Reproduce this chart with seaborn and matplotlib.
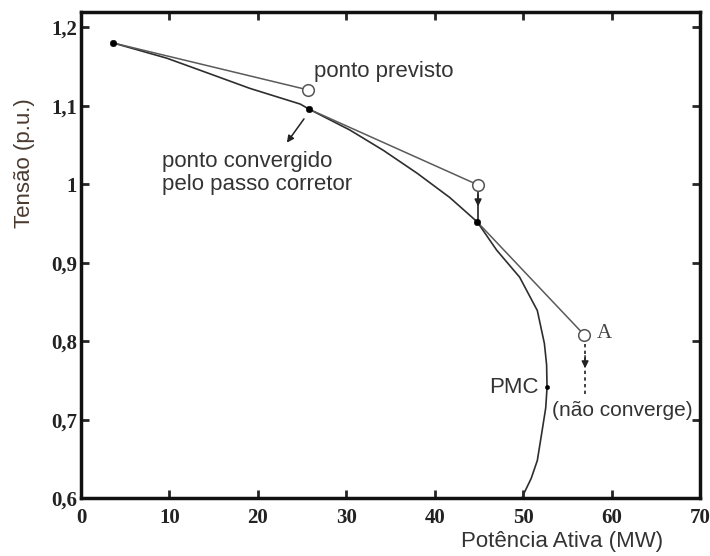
import matplotlib
matplotlib.use("Agg")
import matplotlib.pyplot as plt
import seaborn as sns
import pandas as pd

# PV curve (Potência Ativa x Tensão)
curve_p = [3.6, 9.7, 13.5, 19.1, 24.8, 25.8, 30.4, 34.2, 38.0, 41.7, 44.8, 47.0,
           49.6, 51.6, 52.4, 52.65, 52.7, 52.55, 52.2, 51.6, 50.9, 50.0, 49.8]
curve_v = [1.180, 1.1605, 1.145, 1.122, 1.102, 1.0955, 1.069, 1.043, 1.014, 0.983, 0.952, 0.916,
           0.8815, 0.839, 0.797, 0.770, 0.741, 0.715, 0.690, 0.648, 0.625, 0.604, 0.598]

# converged points (filled) and predicted points (open)
conv_p = [3.6, 25.8, 44.8]
conv_v = [1.180, 1.0955, 0.952]
pred_p = [25.7, 44.9, 56.9]
pred_v = [1.120, 0.999, 0.808]

pmc_p, pmc_v = 52.7, 0.741

sns.set_style("ticks")
plt.rcParams["font.family"] = ["Liberation Sans", "DejaVu Sans"]

fig = plt.figure(figsize=(7.1, 5.56), dpi=100)
ax = fig.add_axes([0.114, 0.104, 0.872, 0.874])

sns.lineplot(x=curve_p, y=curve_v, sort=False, estimator=None, color="#2e2e2e", lw=1.2, ax=ax)

# predictor (tangent) steps
for p0, v0, p1, v1 in zip(conv_p, conv_v, pred_p, pred_v):
    seg = pd.DataFrame({"p": [p0, p1], "v": [v0, v1]})
    sns.lineplot(data=seg, x="p", y="v", sort=False, estimator=None, color="#5a5a5a", lw=1.1, ax=ax)

sns.scatterplot(x=conv_p, y=conv_v, color="black", s=22, edgecolor="black", zorder=5, ax=ax)
sns.scatterplot(x=pred_p, y=pred_v, facecolor="white", edgecolor="#555555", s=70, linewidth=1.1, zorder=5, ax=ax)
sns.scatterplot(x=[pmc_p], y=[pmc_v], color="black", s=10, edgecolor="black", zorder=5, ax=ax)

# corrector arrows
ax.annotate("", xy=(23.1, 1.050), xytext=(25.4, 1.086),
            arrowprops=dict(arrowstyle="-|>", color="#222222", lw=1.1, mutation_scale=10))
ax.plot([pred_p[1], pred_p[1]], [0.990, conv_v[2]], color="#222222", lw=1.2)
ax.annotate("", xy=(pred_p[1], 0.968), xytext=(pred_p[1], 0.990),
            arrowprops=dict(arrowstyle="-|>", color="#222222", lw=1.2, mutation_scale=10))
ax.plot([57.0, 57.0], [0.797, 0.730], color="#222222", lw=1.2, ls=(0, (2, 2)))
ax.annotate("", xy=(57.0, 0.762), xytext=(57.0, 0.785),
            arrowprops=dict(arrowstyle="-|>", color="#222222", lw=1.1, mutation_scale=10))

txt = "#333333"
fs = 16
ax.text(26.3, 1.144, "ponto previsto", fontsize=fs, color=txt, va="center")
ax.text(9.2, 1.014, "ponto convergido\npelo passo corretor", fontsize=fs, color=txt,
        va="center", linespacing=1.15)
ax.text(58.3, 0.810, "A", fontsize=15, color="#444444", va="center", family="Liberation Serif")
ax.text(51.8, 0.741, "PMC", fontsize=fs, color=txt, va="center", ha="right")
ax.text(53.3, 0.712, "(não converge)", fontsize=15, color=txt, va="center")

ax.set_xlim(0, 70)
ax.set_ylim(0.6, 1.219)
ax.set_xticks(range(0, 71, 10))
ax.set_yticks([0.6, 0.7, 0.8, 0.9, 1.0, 1.1, 1.2])
ax.set_yticklabels(["0,6", "0,7", "0,8", "0,9", "1", "1,1", "1,2"])
ax.tick_params(direction="in", length=6, width=2, top=True, right=True, labelsize=15)
ax.tick_params(axis="x", pad=7)
ax.tick_params(axis="y", pad=3)
for lab in ax.get_xticklabels() + ax.get_yticklabels():
    lab.set_family("Liberation Serif")
    lab.set_fontweight("bold")
    lab.set_color("#222222")
for sp in ax.spines.values():
    sp.set_visible(True)
    sp.set_linewidth(2.5)
    sp.set_color("#111111")

ax.set_xlabel("Potência Ativa (MW)", fontsize=fs, color=txt)
ax.xaxis.set_label_coords(0.777, -0.068)
ax.set_ylabel("Tensão (p.u.)", fontsize=fs, color="#4a3a30")
ax.yaxis.set_label_coords(-0.074, 0.69)

fig.savefig("out.png", dpi=100)
